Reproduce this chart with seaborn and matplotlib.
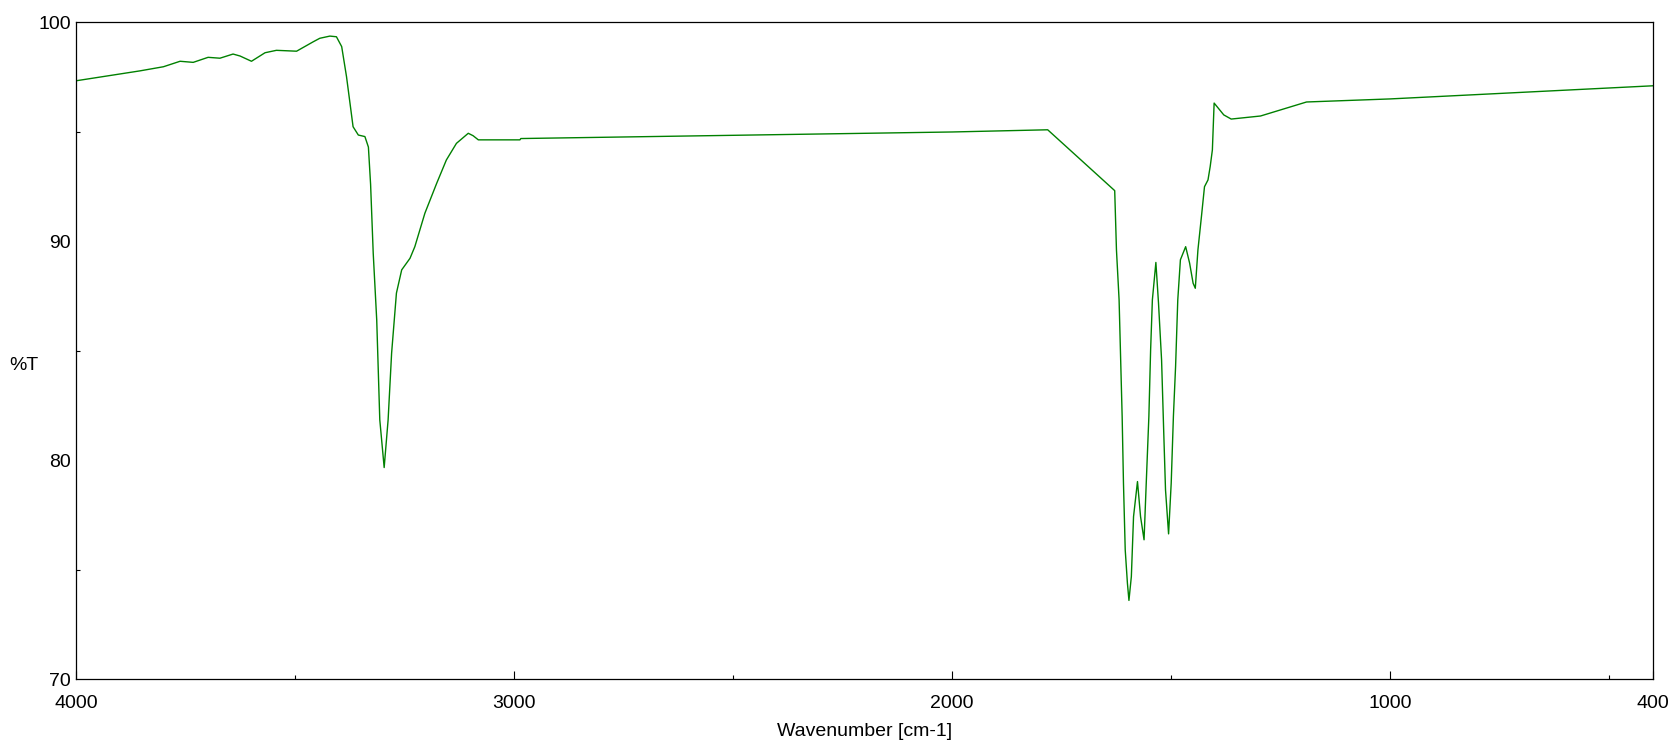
import matplotlib
matplotlib.use("Agg")
import matplotlib.pyplot as plt
import seaborn as sns
import pandas as pd
from matplotlib.ticker import FixedLocator

# spectrum
wavenumber = [
    4000, 3855, 3801, 3763, 3733, 3699, 3672, 3642, 3626, 3600, 3569, 3543,
    3497, 3459, 3444, 3421, 3406, 3394, 3383, 3375, 3368, 3356, 3341, 3333,
    3328, 3322, 3314, 3307, 3297, 3288, 3280, 3269, 3257, 3238, 3227, 3204,
    3177, 3155, 3132, 3105, 3094, 3082, 2987, 2985, 2000, 1782, 1706, 1629,
    1625, 1619, 1616, 1612, 1609, 1605, 1600, 1596.5, 1591, 1586, 1577, 1570,
    1562, 1557, 1551, 1547, 1543, 1535, 1529, 1522, 1517, 1513, 1506, 1500,
    1495, 1490, 1485, 1479, 1467, 1458, 1450, 1445, 1439, 1431, 1424, 1416,
    1411, 1406, 1402, 1380, 1363, 1296, 1191, 1000, 400,
]
transmittance = [
    97.33, 97.78, 97.97, 98.22, 98.17, 98.40, 98.36, 98.55, 98.46, 98.22, 98.61, 98.72,
    98.68, 99.11, 99.27, 99.37, 99.34, 98.89, 97.52, 96.30, 95.23, 94.85, 94.78, 94.30,
    92.60, 89.45, 86.40, 81.84, 79.66, 81.84, 84.89, 87.63, 88.69, 89.22, 89.75, 91.28,
    92.65, 93.71, 94.47, 94.93, 94.82, 94.63, 94.63, 94.69, 94.99, 95.09, 93.71, 92.31,
    89.60, 87.32, 85.04, 81.99, 78.95, 75.90, 74.38, 73.59, 74.68, 77.42, 79.02, 77.42,
    76.36, 78.95, 81.99, 85.04, 87.32, 89.03, 87.17, 84.58, 81.23, 78.64, 76.63, 78.95,
    81.99, 84.28, 87.32, 89.15, 89.75, 89.00, 88.08, 87.85, 89.60, 91.12, 92.49, 92.80,
    93.41, 94.17, 96.31, 95.77, 95.58, 95.72, 96.36, 96.50, 97.10,
]

x_major = [4000, 3000, 2000, 1000, 400]
x_minor = [3500, 2500, 1500, 500]
y_major = [70, 80, 90, 100]
y_minor = [75, 85, 95]

df = pd.DataFrame({"Wavenumber": wavenumber, "T": transmittance})

sns.set_style("white")
plt.rcParams["font.family"] = ["Liberation Sans", "DejaVu Sans"]

fig = plt.figure(figsize=(16.69, 7.46), dpi=100)
ax = fig.add_axes([0.0457, 0.0898, 0.9447, 0.8803])

sns.lineplot(data=df, x="Wavenumber", y="T", ax=ax, color="#008000",
             linewidth=1.0, estimator=None, sort=False)

ax.set_xlim(4000, 400)
ax.set_ylim(70, 100)
ax.xaxis.set_major_locator(FixedLocator(x_major))
ax.xaxis.set_minor_locator(FixedLocator(x_minor))
ax.yaxis.set_major_locator(FixedLocator(y_major))
ax.yaxis.set_minor_locator(FixedLocator(y_minor))
ax.set_xticklabels([str(v) for v in x_major])
ax.set_yticklabels([str(v) for v in y_major])

ax.tick_params(axis="both", which="both", direction="in", color="black",
               labelsize=14, labelcolor="black", bottom=True, left=True,
               top=False, right=False)
ax.tick_params(axis="x", which="major", length=6, width=0.8, pad=11.5)
ax.tick_params(axis="y", which="major", length=0, pad=4)
ax.tick_params(axis="both", which="minor", length=3, width=0.8)

for s in ax.spines.values():
    s.set_color("black")
    s.set_linewidth(0.9)

ax.set_xlabel("Wavenumber [cm-1]", fontsize=14, color="black", labelpad=8)
ax.set_ylabel("%T", fontsize=14, color="black", rotation=0, labelpad=0)
ax.yaxis.set_label_coords(-0.033, 0.465)

fig.savefig("out.png", dpi=100)
